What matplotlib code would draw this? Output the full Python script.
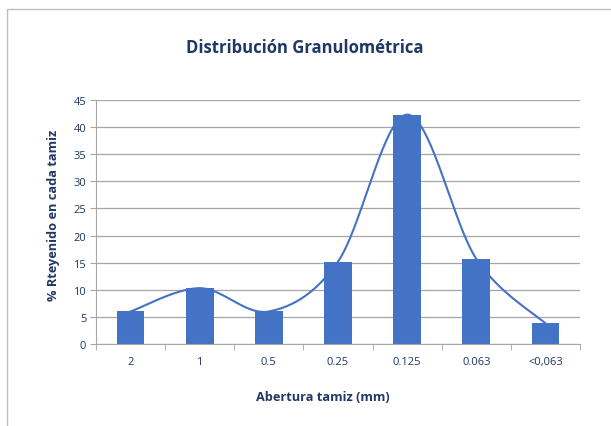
import numpy as np
import matplotlib
matplotlib.use("Agg")
import matplotlib.pyplot as plt
from matplotlib.patches import Rectangle

categories = ["2", "1", "0.5", "0.25", "0.125", "0.063", "<0,063"]
values = [6.0, 10.3, 6.0, 15.2, 42.3, 15.7, 3.8]
yticks = [0, 5, 10, 15, 20, 25, 30, 35, 40, 45]

plt.rcParams['font.family'] = ['Open Sans', 'DejaVu Sans']

W, H = 611, 427
fig = plt.figure(figsize=(W/100, H/100), dpi=100)
fig.patch.set_facecolor('white')

# chart border
fig.patches.append(Rectangle((7/W, -0.1), 1.2, (H-10)/H + 0.1, transform=fig.transFigure,
                             fill=False, edgecolor='#bfbfbf', linewidth=1.0))

l, r, t, b = 96, 580, 101, 345
ax = fig.add_axes([l/W, 1-b/H, (r-l)/W, (b-t)/H])

x = np.arange(len(categories))
bar_color = '#4472C4'
ax.bar(x, values, width=0.4, color=bar_color, zorder=2)

# smooth line (Catmull-Rom through data points)
px = x.astype(float)
py = np.array(values, dtype=float)
ext_x = np.concatenate([[px[0]], px, [px[-1]]])
ext_y = np.concatenate([[py[0]], py, [py[-1]]])
sx, sy = [], []
tt = np.linspace(0, 1, 40)
for i in range(1, len(ext_x) - 2):
    p0, p1, p2, p3 = [np.array([ext_x[j], ext_y[j]]) for j in (i-1, i, i+1, i+2)]
    for tv in tt:
        pt = 0.5 * ((2*p1) + (-p0 + p2)*tv + (2*p0 - 5*p1 + 4*p2 - p3)*tv**2 + (-p0 + 3*p1 - 3*p2 + p3)*tv**3)
        sx.append(pt[0]); sy.append(pt[1])
ax.plot(sx, sy, color=bar_color, linewidth=1.5, zorder=3)

ax.set_xlim(-0.5, len(categories) - 0.5)
ax.set_ylim(0, 45)
ax.set_yticks(yticks)
ax.set_xticks(x)
ax.set_xticklabels(categories)
ax.set_xticks(np.arange(-0.5, len(categories)), minor=True)
ax.tick_params(axis='x', which='major', length=0, pad=9, labelsize=8, labelcolor='#1F3864')
ax.tick_params(axis='x', which='minor', length=4, color='#a6a6a6', direction='out')
ax.tick_params(axis='y', length=4, color='#a6a6a6', labelsize=8, labelcolor='#1F3864', pad=3)
ax.grid(axis='y', color='#a6a6a6', linewidth=0.9, zorder=0)
ax.set_axisbelow(True)
for s in ['top', 'right']:
    ax.spines[s].set_visible(False)
ax.spines['left'].set_color('#a6a6a6')
ax.spines['bottom'].set_color('#a6a6a6')

fig.text(323/W, 1-398/H, 'Abertura tamiz (mm)', ha='center', va='center',
         fontsize=9.2, fontweight='bold', color='#1F3864')
fig.text(54/W, 1-215/H, '% Rteyenido en cada tamiz', ha='center', va='center', rotation=90,
         fontsize=9.2, fontweight='bold', color='#1F3864')

fig.text(305/W, 1-48/H, 'Distribución Granulométrica', ha='center', va='center',
         fontsize=12, fontweight='bold', color='#1F3864')

fig.savefig('out.png', dpi=100)
